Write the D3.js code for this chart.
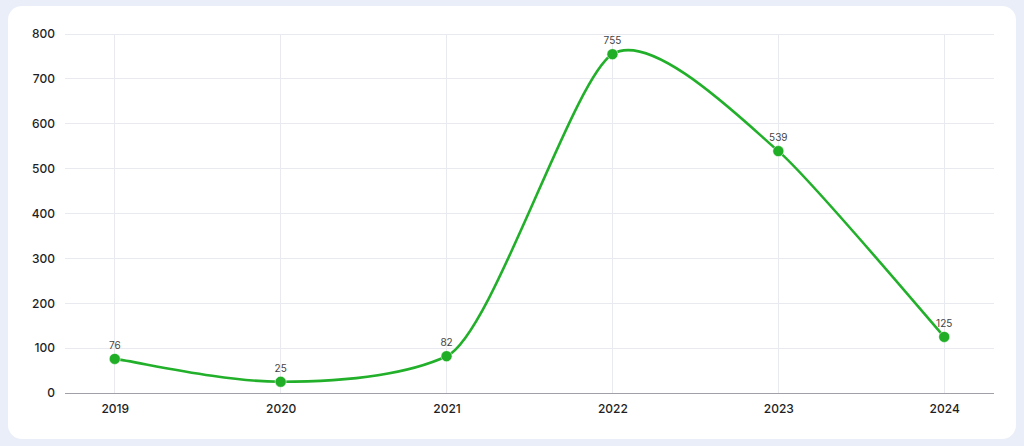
<!DOCTYPE html>
<html><head><meta charset="utf-8">
<script src="https://cdn.jsdelivr.net/npm/d3@7"></script>
<style>
html,body{margin:0;padding:0;background:#eaeef8;}
svg{display:block;}
</style></head>
<body><svg id="c" width="1024" height="446"></svg>
<script>
const years = ["2019","2020","2021","2022","2023","2024"];
const values = [76, 25, 82, 755, 539, 125];
const yTicks = [0,100,200,300,400,500,600,700,800];

(function(){
const svg = d3.select("#c");
svg.append("rect").attr("x",8).attr("y",6).attr("width",1008).attr("height",433)
  .attr("rx",14).attr("fill","#ffffff");

const pL = 65, pR = 994, pT = 34, pB = 393;
const x = d3.scalePoint().domain(years).range([pL,pR]).padding(0.3);
const y = d3.scaleLinear().domain([0,800]).range([pB,pT]);

const font = "Inter, 'Open Sans', sans-serif";
svg.append("g").selectAll("line").data(yTicks.filter(d=>d>0)).join("line")
  .attr("x1",pL).attr("x2",pR).attr("y1",d=>y(d)).attr("y2",d=>y(d))
  .attr("stroke","#e9e9f0").attr("stroke-width",1).attr("shape-rendering","crispEdges");
svg.append("g").selectAll("line").data(years).join("line")
  .attr("x1",d=>x(d)).attr("x2",d=>x(d)).attr("y1",pT).attr("y2",pB)
  .attr("stroke","#e9e9f0").attr("stroke-width",1).attr("shape-rendering","crispEdges");
svg.append("line").attr("x1",pL).attr("x2",pR).attr("y1",pB).attr("y2",pB)
  .attr("stroke","#a0a0a8").attr("stroke-width",1).attr("shape-rendering","crispEdges");

const ya = svg.append("g").attr("transform",`translate(${pL},0)`)
  .call(d3.axisLeft(y).tickValues(yTicks).tickSize(0).tickPadding(10));
ya.select(".domain").remove();
ya.selectAll("text").attr("font-family",font).attr("font-size",12).attr("font-weight",500).attr("fill","#1e1e24");

const xa = svg.append("g").attr("transform",`translate(0,${pB})`)
  .call(d3.axisBottom(x).tickSize(0).tickPadding(11));
xa.select(".domain").remove();
xa.selectAll("text").attr("font-family",font).attr("font-size",12).attr("font-weight",500).attr("fill","#1e1e24");

// smooth spline (finite-difference tangents with Fritsch-Carlson limiting)
const pts = years.map((yr,i)=>[x(yr), y(values[i])]);
const n = pts.length - 1;
const slope = (a,b)=>(b[1]-a[1])/(b[0]-a[0]);
const m = [];
m[0] = slope(pts[0],pts[1]);
m[n] = slope(pts[n-1],pts[n]);
for (let i=1;i<n;i++) m[i] = (slope(pts[i-1],pts[i]) + slope(pts[i],pts[i+1]))/2;
for (let i=0;i<n;i++){
  const d = slope(pts[i],pts[i+1]);
  if (Math.abs(d) < 1e-6) { m[i]=m[i+1]=0; }
  else {
    const a = m[i]/d, b = m[i+1]/d; let s = a*a+b*b;
    if (s > 9) { s = d*3/Math.sqrt(s); m[i]=s*a; m[i+1]=s*b; }
  }
}
const tg = [];
for (let i=0;i<=n;i++){
  const s = (pts[Math.min(n,i+1)][0] - pts[Math.max(0,i-1)][0])/(6*(1+m[i]*m[i]));
  tg.push([s||0, m[i]*s||0]);
}
const path = d3.path();
path.moveTo(pts[0][0],pts[0][1]);
for (let i=1;i<=n;i++){
  const a = pts[i-1], b = pts[i];
  path.bezierCurveTo(a[0]+tg[i-1][0], a[1]+tg[i-1][1], b[0]-tg[i][0], b[1]-tg[i][1], b[0], b[1]);
}
svg.append("path").attr("d",path.toString()).attr("fill","none")
  .attr("stroke","#22b02b").attr("stroke-width",2.6).attr("stroke-linecap","round");

svg.append("g").selectAll("circle").data(years).join("circle")
  .attr("cx",d=>x(d)).attr("cy",(d,i)=>y(values[i])).attr("r",5.5)
  .attr("fill","#1fae26").attr("stroke","#ffffff").attr("stroke-opacity",0.5).attr("stroke-width",1);

svg.append("g").selectAll("text").data(years).join("text")
  .attr("x",d=>x(d)).attr("y",(d,i)=>y(values[i])-10)
  .attr("text-anchor","middle").attr("font-family",font).attr("font-size",10)
  .attr("fill","#444").text((d,i)=>values[i]);
})();
</script></body></html>
